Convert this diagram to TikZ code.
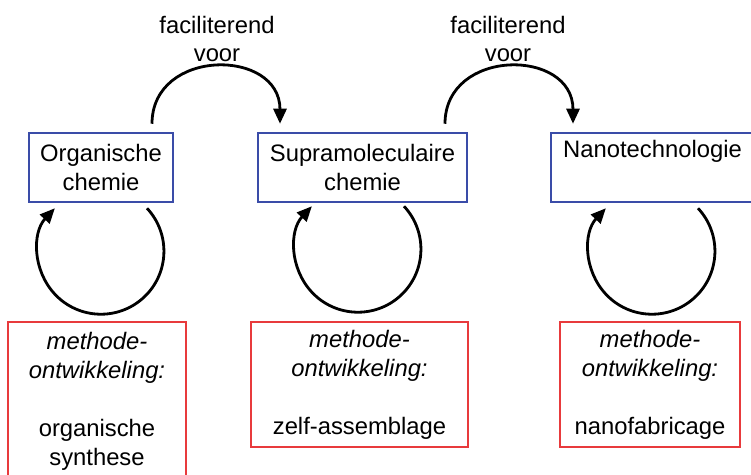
\documentclass[tikz,border=0pt]{standalone}
\usepackage{fontspec}
\setmainfont{Liberation Sans}
\usetikzlibrary{arrows.meta}
\definecolor{boxblue}{RGB}{58,76,168}
\definecolor{boxred}{RGB}{232,58,60}
\tikzset{
  bluebox/.style={draw=boxblue, line width=2.5pt, minimum height=69pt, inner sep=0pt, align=center, font=\fontsize{23.8}{29}\selectfont},
  redbox/.style={draw=boxred, line width=2.5pt, inner sep=0pt, align=center, font=\fontsize{23.8}{29}\selectfont},
  lbl/.style={align=center, font=\fontsize{23.8}{28}\selectfont},
  conn/.style={line width=2.8pt, -{Triangle[length=15pt,width=13pt]}}
}
\begin{document}
\begin{tikzpicture}[x=1pt,y=1pt]
\path[use as bounding box, clip] (0,0) rectangle (751,474);
\fill[white] (0,0) rectangle (751,474);
% blue boxes
\node[bluebox, minimum width=144pt] (o1) at (101,306.5) {Organische\\chemie};
\node[bluebox, minimum width=209pt] (o2) at (362.5,306.5) {Supramoleculaire\\chemie};
\node[bluebox, minimum width=203pt] (o3) at (652.5,306.5) {Nanotechnologie\\\strut};
% red boxes
\node[redbox, minimum width=178pt, minimum height=158pt] (r1) at (97,73) {\textit{methode-}\\\textit{ontwikkeling:}\\[29pt]organische\\synthese};
\node[redbox, minimum width=217pt, minimum height=125pt] (r2) at (359.5,89.5) {\textit{methode-}\\\textit{ontwikkeling:}\\[29pt]zelf-assemblage};
\node[redbox, minimum width=180pt, minimum height=125pt] (r3) at (650,89.5) {\textit{methode-}\\\textit{ontwikkeling:}\\[29pt]nanofabricage};
% labels
\node[lbl] (f1) at (217,435) {faciliterend\\voor};
\node[lbl] (f2) at (508,435) {faciliterend\\voor};
% top arcs
\draw[conn] ([shift={(51,8)}]o1.north) .. controls +(0,76) and +(0,76) .. ([shift={(-82.5,8)}]o2.north);
\draw[conn] ([shift={(82.5,8)}]o2.north) .. controls +(0,76) and +(0,76) .. ([shift={(-79.5,8)}]o3.north);
% loops
\draw[conn] ([shift={(46,-5)}]o1.south) arc[start angle=43, end angle=-223, radius=63];
\draw[conn] ([shift={(41.5,-3)}]o2.south) arc[start angle=43, end angle=-223, radius=63];
\draw[conn] ([shift={(45.5,-5)}]o3.south) arc[start angle=43, end angle=-223, radius=63];
\end{tikzpicture}
\end{document}
